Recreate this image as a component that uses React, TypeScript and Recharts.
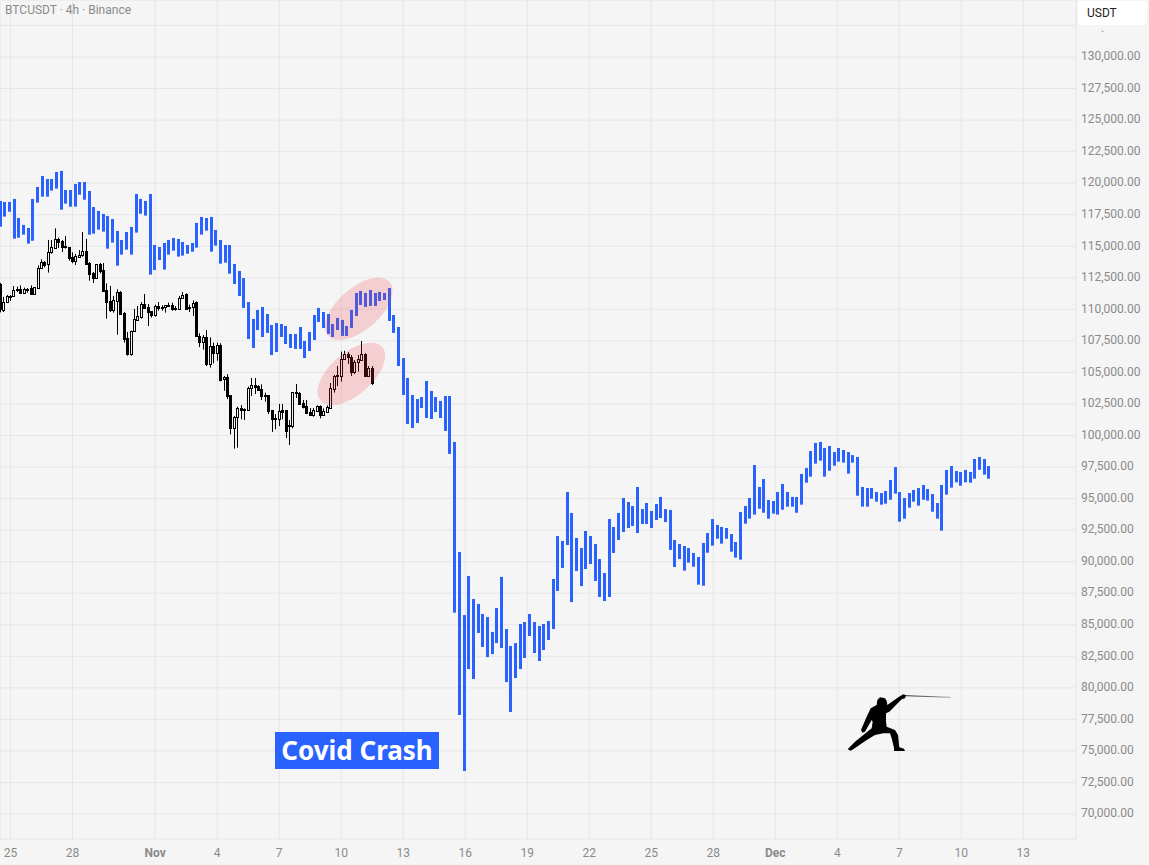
import { Bar, CartesianGrid, ComposedChart, Scatter, XAxis, YAxis } from 'recharts';

// candles start at Oct 24 12:00, days counted from Oct 25
const firstDay = -0.5;
const candleStep = 1 / 6;
const rangeBarStep = 0.2267;

const rangeBarHigh = [
  118590, 118510, 118510, 118750, 117240, 116690, 116450, 118750, 119700, 120570,
  120330, 120330, 120890, 120970, 119460, 119460, 119940, 120090, 120090, 119380,
  118110, 117800, 117560, 117400, 117160, 116210, 115500, 116130, 116530, 119140,
  118750, 118590, 119140, 115100, 114940, 115260, 115500, 115660, 115580, 115340,
  115100, 115260, 116850, 117320, 117240, 117320, 116290, 115500, 115100, 115100,
  113600, 113040, 112480, 110580, 109240, 109950, 110190, 109630, 108760, 108920,
  108840, 108680, 108050, 108050, 108600, 107490, 108210, 109550, 110110, 109790,
  109630, 108840, 109320, 109160, 108680, 109950, 111300, 111460, 111300, 111530,
  111300, 111380, 111300, 111690, 109550, 108600, 106140, 104560, 103210, 102890,
  103050, 104320, 103530, 103050, 102740, 103130, 103130, 99490, 90770, 85770,
  88860, 87040, 86650, 85850, 85610, 84430, 86330, 88790, 84660, 83320,
  83550, 85060, 85220, 85850, 85220, 84900, 85060, 85300, 88630, 92030,
  91640, 95520, 93860, 91880, 91080, 92430, 92030, 91400, 90210, 89100,
  93380, 92750, 93860, 95050, 94730, 94410, 95920, 94170, 94650, 94020,
  94570, 95130, 94170, 94100, 91720, 91400, 91240, 91080, 90690, 90370,
  91480, 92270, 93380, 92910, 92750, 92670, 92190, 91560, 93940, 94410,
  95050, 97660, 95920, 96550, 94890, 94810, 95520, 96160, 95520, 95130,
  95130, 96950, 97420, 98770, 99410, 99490, 99010, 99170, 98690, 99010,
  98850, 98690, 98450, 98300, 95920, 95840, 95840, 95520, 95440, 95600,
  96470, 97500, 95520, 95050, 95440, 95680, 95840, 96080, 95760, 95360,
  94650, 96080, 97270, 97580, 97190, 97110, 97270, 97110, 98140, 98300,
  98140, 97580,
];

const rangeBarLow = [
  116550, 117350, 117740, 115600, 115680, 115920, 115210, 115440, 118460, 118930,
  118930, 119410, 119570, 117900, 118380, 118140, 118140, 119090, 118690, 115920,
  116000, 116320, 116160, 114810, 115290, 113460, 114340, 114730, 114340, 116080,
  117580, 117430, 112750, 113120, 113910, 113150, 114340, 114650, 114180, 114260,
  114410, 114570, 114890, 115920, 116240, 114570, 115050, 113620, 113700, 112830,
  112010, 111060, 110110, 107650, 106940, 108360, 107810, 108130, 106380, 106620,
  107810, 107250, 106940, 106860, 106860, 106140, 106700, 107570, 109000, 108520,
  108050, 107810, 108360, 107890, 107890, 108520, 109470, 110350, 110190, 110270,
  110270, 110660, 110740, 109080, 108130, 105510, 103210, 100910, 100600, 100990,
  102180, 101390, 101310, 101860, 101390, 100360, 98540, 85960, 77850, 73410,
  81490, 80700, 84350, 83240, 82440, 82680, 83550, 83160, 80460, 78090,
  80780, 81490, 82370, 84110, 82760, 82130, 83000, 83790, 84660, 87680,
  89500, 91320, 86800, 89260, 88070, 89420, 89820, 88470, 87200, 86880,
  87200, 90690, 91720, 92350, 92670, 92830, 92270, 92990, 92990, 92670,
  93300, 93460, 93140, 90930, 89580, 90210, 89290, 89920, 89600, 88180,
  88100, 90710, 91270, 91820, 91430, 91820, 90790, 90320, 90160, 93010,
  93410, 93730, 94200, 93880, 93410, 93810, 93730, 94120, 94360, 94360,
  93880, 94520, 96260, 96740, 97770, 98010, 96740, 97210, 97610, 97930,
  97850, 96980, 97850, 95230, 94360, 94360, 94990, 94760, 94520, 94600,
  94910, 95390, 93170, 93410, 94280, 94760, 94440, 94910, 94840, 93960,
  93410, 92460, 95310, 95870, 96290, 96020, 96290, 96260, 96580, 97290,
  96900, 96580,
];

const candleOpen = [
  112010, 109950, 110610, 111030, 111030, 111530, 111590, 111320, 111590, 111660,
  111240, 111720, 113250, 113730, 113570, 114520, 114890, 115580, 115390, 114990,
  114910, 114120, 113860, 114170, 114310, 114600, 113650, 112880, 112510, 113570,
  113090, 111510, 110630, 109970, 110690, 111370, 109710, 107700, 106490, 108310,
  109180, 109420, 110400, 110160, 109840, 109580, 110260, 110190, 110160, 110340,
  110370, 110110, 110050, 110870, 111190, 110210, 110160, 110560, 107910, 107440,
  107780, 105690, 107070, 106570, 107150, 104450, 104610, 103210, 100570, 101490,
  102150, 102050, 102050, 103740, 103980, 103900, 103660, 103210, 103210, 102000,
  101360, 101310, 102000, 102020, 100830, 100780, 103450, 103400, 102550, 102340,
  101860, 101600, 101970, 102340, 101630, 101890, 102210, 103710, 104800, 104690,
  106040, 106460, 106200, 105060, 105800, 106010, 106460, 104740, 105380,
];

const candleClose = [
  110000, 110610, 111030, 111080, 111510, 111590, 111300, 111610, 111640, 111240,
  111740, 113250, 113730, 113510, 114520, 114910, 115550, 115360, 114970, 114940,
  114100, 113860, 114200, 114310, 114600, 113620, 112800, 112510, 113570, 113070,
  111480, 110610, 109950, 110710, 111370, 109660, 107680, 106490, 108310, 109210,
  109450, 110400, 110130, 109820, 109580, 110260, 110080, 110130, 110320, 110290,
  110050, 110050, 110870, 111160, 110050, 110160, 110530, 107910, 107410, 107780,
  105690, 107090, 106570, 107150, 104400, 104610, 103130, 100570, 101490, 102150,
  102000, 102100, 103740, 103980, 103870, 103630, 103130, 103100, 101970, 101310,
  101310, 101920, 101860, 100360, 100750, 103420, 103400, 102500, 102260, 101780,
  101600, 102000, 102340, 101630, 101920, 102260, 103740, 104740, 104690, 106040,
  106460, 106200, 105060, 105830, 106040, 106430, 104740, 105380, 104190,
];

const candleHigh = [
  112090, 110990, 111140, 111140, 111850, 111800, 111900, 111720, 111690, 111900,
  111770, 113490, 113960, 113830, 115500, 115500, 116420, 115680, 115500, 115810,
  114910, 114520, 114390, 114700, 116130, 115580, 113750, 112960, 113570, 113670,
  113670, 112060, 111850, 111060, 111590, 111450, 109790, 108200, 108310, 110030,
  110260, 110580, 111220, 110420, 109840, 110370, 110580, 110320, 110320, 110530,
  110530, 110260, 111060, 111370, 111270, 110370, 110710, 110630, 108100, 107970,
  108360, 107780, 107360, 107360, 107310, 104720, 104870, 103210, 101550, 102290,
  102420, 102150, 103870, 104560, 104560, 103980, 104060, 103400, 103210, 102020,
  101700, 102500, 102500, 102020, 101230, 103420, 104080, 103450, 102810, 102810,
  102180, 102180, 102390, 102390, 102150, 102390, 104160, 104800, 105510, 106650,
  106720, 106620, 106380, 105980, 106380, 107490, 106510, 105510, 105510,
];

const candleLow = [
  109760, 109790, 110530, 110660, 111030, 111370, 111270, 111240, 111320, 111220,
  111220, 111720, 113250, 113330, 112910, 114410, 114860, 114860, 114540, 114810,
  113860, 113650, 113510, 114170, 114170, 113590, 112270, 112090, 112510, 112850,
  111450, 109260, 109790, 109740, 107990, 109630, 107360, 106330, 106330, 108310,
  109180, 109260, 110110, 108680, 109340, 109420, 109890, 109890, 109740, 110210,
  109890, 109890, 110050, 110870, 110030, 109790, 109470, 107890, 107010, 106800,
  105510, 105380, 105720, 105930, 104290, 103550, 102890, 100090, 98960, 99040,
  101280, 101230, 101970, 103130, 103290, 103550, 102810, 102680, 101700, 100280,
  100490, 100750, 101280, 99800, 99250, 100570, 102970, 102500, 102150, 101700,
  101550, 101490, 101860, 101360, 101630, 101860, 102150, 103400, 103920, 104270,
  105980, 105670, 104720, 104870, 105060, 105980, 104720, 104720, 104000,
];

// rotated marker ellipses: [day, price]
const highlightDays = [16.85, 16.49];
const highlightPrices = [110040, 104880];

const dayTicks = [0, 3, 7, 10, 13, 16, 19, 22, 25, 28, 31, 34, 37, 40, 43, 46, 49];
const dayLabels = ['25', '28', 'Nov', '4', '7', '10', '13', '16', '19', '22', '25', '28', 'Dec', '4', '7', '10', '13'];
const priceTicks = [
  70000, 72500, 75000, 77500, 80000, 82500, 85000, 87500, 90000, 92500, 95000, 97500, 100000,
  102500, 105000, 107500, 110000, 112500, 115000, 117500, 120000, 122500, 125000, 127500, 130000, 132500,
];

const rows = [
  ...rangeBarHigh.map((high, i) => ({ day: firstDay + i * rangeBarStep, range: [rangeBarLow[i], high] })),
  ...candleHigh.map((high, i) => ({
    day: firstDay + i * candleStep,
    candle: [candleLow[i], high],
    open: candleOpen[i],
    close: candleClose[i],
  })),
];
const highlights = highlightDays.map((day, i) => ({ day, price: highlightPrices[i] }));

const dayDomain = [-0.508, 51.55];
const priceDomain = [68020, 134518];
const FONT = 'Roboto, sans-serif';

// the axis band is tiny with these fractional days, so bars keep their own width
function RangeBar(props: any) {
  const { x, y, width, height, payload } = props;
  if (!payload || !payload.range || !height) return null;
  return <rect x={Math.round(x + width / 2 - 1.5)} y={y} width={3} height={height} fill="#2962ff" />;
}

function Candle(props: any) {
  const { x, y, width, height, payload } = props;
  if (!payload || !payload.candle || !height) return null;
  const [low, high] = payload.candle;
  const pxPerPrice = height / (high - low);
  const top = Math.round(y + (high - Math.max(payload.open, payload.close)) * pxPerPrice) + 0.5;
  const bottom = Math.round(y + (high - Math.min(payload.open, payload.close)) * pxPerPrice) + 0.5;
  const up = payload.close >= payload.open;
  const mid = Math.round(x + width / 2 - 0.5) + 0.5;
  return (
    <g>
      <line x1={mid} x2={mid} y1={y} y2={y + height} stroke="#000" strokeWidth={1} />
      <rect
        x={mid - 1}
        y={top}
        width={2}
        height={Math.max(bottom - top, 1)}
        fill={up ? '#f5f5f5' : '#000'}
        stroke="#000"
        strokeWidth={1}
      />
    </g>
  );
}

function Highlight(props: any) {
  const { cx, cy } = props;
  return <ellipse cx={cx} cy={cy} rx={41} ry={21} transform={`rotate(-41 ${cx} ${cy})`} fill="rgba(242,54,69,0.2)" />;
}

function DayTick(props: any) {
  const { x, payload } = props;
  const label = dayLabels[dayTicks.indexOf(payload.value)];
  const isMonth = label === 'Nov' || label === 'Dec';
  return (
    <text x={x} y={857} textAnchor="middle" fontFamily={FONT} fontSize={12} fontWeight={isMonth ? 700 : 400} fill="#8a8a8a">
      {label}
    </text>
  );
}

function Fencer() {
  return (
    <svg width={130} height={80} viewBox="0 0 390 240" style={{ position: 'absolute', left: 830, top: 680 }}>
      <defs>
        <linearGradient id="blade" gradientUnits="userSpaceOnUse" x1={225} y1={47} x2={362} y2={52}>
          <stop offset="0%" stopColor="#000" />
          <stop offset="100%" stopColor="#999" />
        </linearGradient>
      </defs>
      <path
        d="M53 208 L62 212 L72 206 L110 180 L135 165 L160 160 L180 160 L185 175 L192 203 L192 213 L225 213 L222 206 L208 202 L204 165 L195 150 L170 140 L168 125 L168 100 L178 95 L215 58 L225 55 L228 46 L220 43 L205 52 L172 75 L170 62 L165 55 L150 52 L142 60 L140 75 L122 85 L108 115 L93 150 L97 158 L105 155 L125 120 L128 125 L125 145 L100 165 L75 185 Z"
        fill="#000"
      />
      <line x1={225} y1={47} x2={362} y2={52.01} stroke="url(#blade)" strokeWidth={2.5} />
    </svg>
  );
}

export default function App() {
  return (
    <div style={{ position: 'fixed', left: 0, top: 0, width: 1149, height: 865, background: '#f5f5f5', overflow: 'hidden' }}>
      <ComposedChart width={1149} height={865} data={rows} margin={{ top: 0, right: 0, bottom: 0, left: 0 }}>
        <CartesianGrid xAxisId="date" stroke="#e6e6e6" strokeWidth={1} />
        <XAxis
          xAxisId="date"
          dataKey="day"
          type="number"
          domain={dayDomain}
          ticks={dayTicks}
          interval={0}
          height={26}
          tick={<DayTick />}
          tickLine={false}
          tickSize={0}
          tickMargin={9}
          axisLine={{ stroke: '#e0e0e0' }}
          allowDataOverflow
        />
        <XAxis xAxisId="candles" dataKey="day" type="number" domain={dayDomain} hide allowDataOverflow />
        <YAxis
          orientation="right"
          width={73}
          domain={priceDomain}
          ticks={priceTicks}
          interval={0}
          tickFormatter={(v: number) => (v > 130000 ? '' : v.toLocaleString('en-US', { minimumFractionDigits: 2 }))}
          tick={{ fontFamily: FONT, fontSize: 12, fill: '#8a8a8a', dy: -1 }}
          tickLine={false}
          tickSize={0}
          tickMargin={5}
          axisLine={{ stroke: '#ececec' }}
          allowDataOverflow
        />
        <Bar xAxisId="date" dataKey="range" shape={<RangeBar />} isAnimationActive={false} />
        <Bar xAxisId="candles" dataKey="candle" shape={<Candle />} isAnimationActive={false} />
        <Scatter xAxisId="date" data={highlights} dataKey="price" shape={<Highlight />} isAnimationActive={false} />
      </ComposedChart>

      <div style={{ position: 'absolute', left: 5, top: 3, fontFamily: FONT, fontSize: 12, color: '#8a8a8a' }}>
        BTCUSDT · 4h · Binance
      </div>
      <div
        style={{
          position: 'absolute',
          left: 1078,
          top: 1,
          width: 60,
          height: 24,
          paddingLeft: 9,
          lineHeight: '25px',
          background: '#fff',
          borderRadius: 3,
          fontFamily: FONT,
          fontSize: 12,
          color: '#222',
        }}
      >
        USDT
      </div>
      <div
        style={{
          position: 'absolute',
          left: 1101,
          top: 21,
          fontFamily: FONT,
          fontSize: 12,
          color: '#8a8a8a',
        }}
      >
        .
      </div>
      <div
        style={{
          position: 'absolute',
          left: 275,
          top: 732,
          width: 164,
          height: 37,
          background: '#2962ff',
          color: '#fff',
          fontFamily: '"Noto Sans", sans-serif',
          fontWeight: 700,
          fontSize: 26,
          lineHeight: '36px',
          textAlign: 'center',
        }}
      >
        Covid Crash
      </div>
      <Fencer />
    </div>
  );
}
